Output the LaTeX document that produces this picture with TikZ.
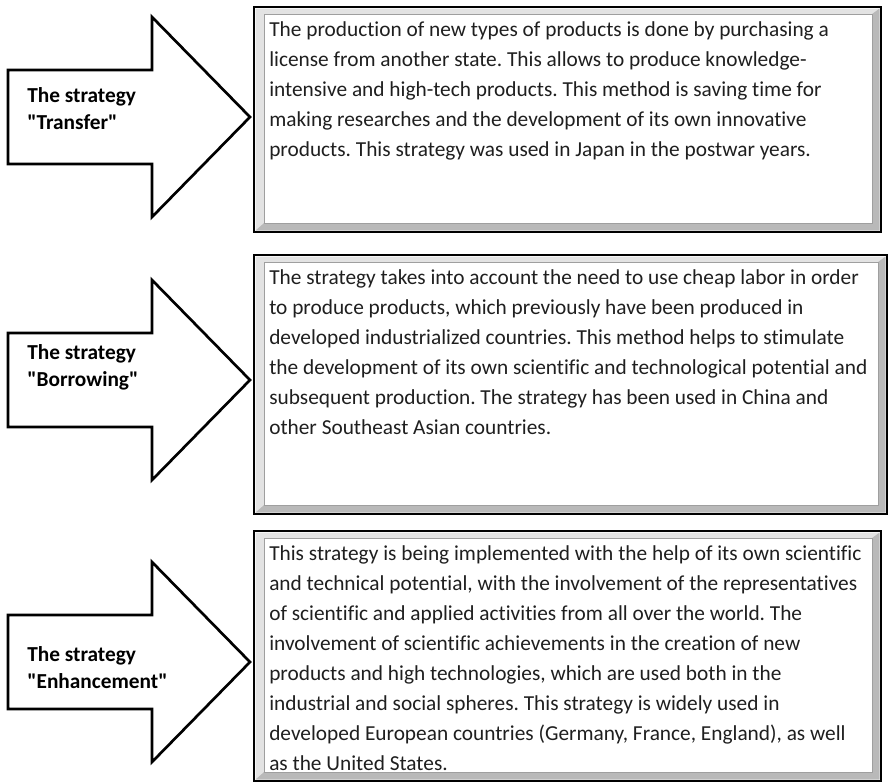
\documentclass[tikz,border=0pt]{standalone}
\usepackage{fontspec}
\setmainfont{Carlito}[Ligatures={TeXOff,NoCommon}]
\newcommand{\stratarrow}[1]{% #1: y of the tip
  \draw[strat] (8,#1-47)--(152,#1-47)--(152,#1-100)--(250,#1)--(152,#1+100)--(152,#1+47)--(8,#1+47)--cycle;}
\newcommand{\bevelbox}[4]{% #1,#2 top left, #3,#4 bottom right
  \fill[white] (#1,#2) rectangle (#3,#4);
  \fill[gray!22] (#1+1.5,#2+1.5)--(#3-1.5,#2+1.5)--(#3-9,#2+7)--(#1+10,#2+7)--(#1+10,#4-9)--(#1+1.5,#4-1.5)--cycle;
  \fill[gray!55] (#3-1.5,#2+1.5)--(#3-1.5,#4-1.5)--(#1+1.5,#4-1.5)--(#1+10,#4-9)--(#3-9,#4-9)--(#3-9,#2+7)--cycle;
  \draw[gray!75,line width=.5pt] (#1+10,#2+7) rectangle (#3-9,#4-9);
  \draw[black,line width=1.1pt] (#1,#2) rectangle (#3,#4);}
\begin{document}
\frenchspacing
\begin{tikzpicture}[x=.75pt,y=-.75pt,line join=miter,
    strat/.style={draw=black,line width=2pt,fill=white},
    lbl/.style={anchor=west,align=left,inner sep=0,font=\bfseries\fontsize{16}{20}\selectfont},
    desc/.style={anchor=north west,align=left,inner sep=0,text=black!88,font=\fontsize{16}{22.5}\selectfont}]
	\useasboundingbox (0,0) rectangle (888,783);
	% arrows with the strategy names
	\stratarrow{117}
	\stratarrow{380}
	\stratarrow{662}
	\node[lbl] (s1) at (27,108.5) {The strategy\\"Transfer"};
	\node[lbl] (s2) at (27,367.5) {The strategy\\"Borrowing"};
	\node[lbl] (s3) at (27,667.5) {The strategy\\"Enhancement"};
	% description boxes
	\bevelbox{254}{7}{881}{232}
	\bevelbox{254}{255}{887}{514}
	\bevelbox{254}{531}{881}{781}
	\node[desc] (t1) at (269,21) {The production of new types of products is done by purchasing a\\
		license from another state. This allows to produce knowledge-\\
		intensive and high-tech products. This method is saving time for\\
		making researches and the development of its own innovative\\
		products. This strategy was used in Japan in the postwar years.};
	\node[desc] (t2) at (269,269) {The strategy takes into account the need to use cheap labor in order\\
		to produce products, which previously have been produced in\\
		developed industrialized countries. This method helps to stimulate\\
		the development of its own scientific and technological potential and\\
		subsequent production. The strategy has been used in China and\\
		other Southeast Asian countries.};
	\node[desc] (t3) at (269,545) {This strategy is being implemented with the help of its own scientific\\
		and technical potential, with the involvement of the representatives\\
		of scientific and applied activities from all over the world. The\\
		involvement of scientific achievements in the creation of new\\
		products and high technologies, which are used both in the\\
		industrial and social spheres. This strategy is widely used in\\
		developed European countries (Germany, France, England), as well\\
		as the United States.};
\end{tikzpicture}
\end{document}
